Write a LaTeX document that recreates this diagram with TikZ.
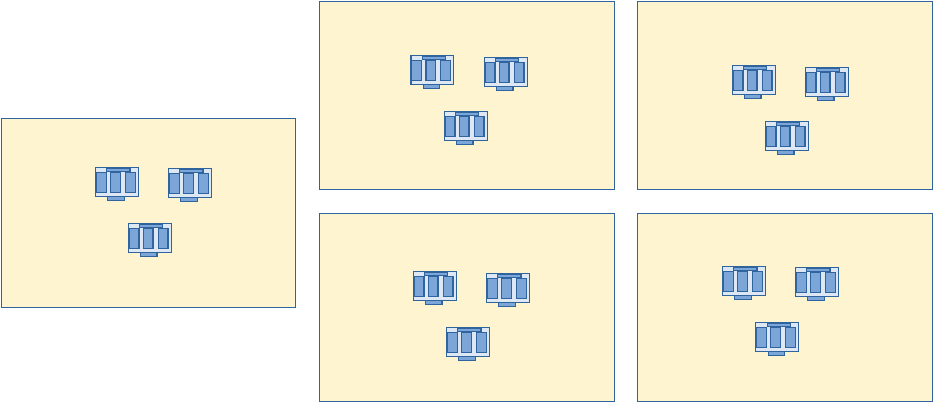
\documentclass[tikz,border=0pt]{standalone}
\definecolor{panelfill}{HTML}{FFF4D0}
\definecolor{edgeblue}{HTML}{2F649F}
\definecolor{bodyfill}{HTML}{DEE8F4}
\definecolor{partfill}{HTML}{7CA5D8}
\tikzset{
  panelbox/.style={draw=edgeblue,fill=panelfill,line width=1pt},
  unitbody/.style={draw=edgeblue,fill=bodyfill,line width=1.2pt},
  unitpart/.style={draw=edgeblue,fill=partfill,line width=1.2pt},
  unit/.pic={
    \draw[unitpart] (12.3,29.4) rectangle (28.7,33);
    \draw[unitbody] (0,0) rectangle (42.8,29.4);
    \draw[unitpart] (11.3,0.8) rectangle (34.4,4.4);
    \draw[unitpart] (0.8,5) rectangle (10.6,25.4);
    \draw[unitpart] (14.9,5) rectangle (24.7,25.4);
    \draw[unitpart] (29.8,5) rectangle (39.6,25.4);
  }
}
\begin{document}
\begin{tikzpicture}[x=1pt,y=-1pt]
\useasboundingbox (0,0) rectangle (933,402);
\draw[panelbox] (1,118.5) rectangle (295.5,307.5);
\draw[panelbox] (319.5,1) rectangle (614.5,189.5);
\draw[panelbox] (637.5,1) rectangle (932.5,189.5);
\draw[panelbox] (319.5,213) rectangle (614.5,401.5);
\draw[panelbox] (637.5,213) rectangle (932.5,401.5);
\foreach \ux/\uy in {95.5/167.3,168.5/168.3,128.3/223.3,
                     411/55.3,484.3/57.3,444.3/111.3,
                     732.3/65.3,805.3/67.3,765.3/121.3,
                     413.3/271.3,486.5/273.3,446.5/327.3,
                     722.5/266.3,795.5/267.3,755.8/322.3}
  \pic at (\ux,\uy) {unit};
\end{tikzpicture}
\end{document}
